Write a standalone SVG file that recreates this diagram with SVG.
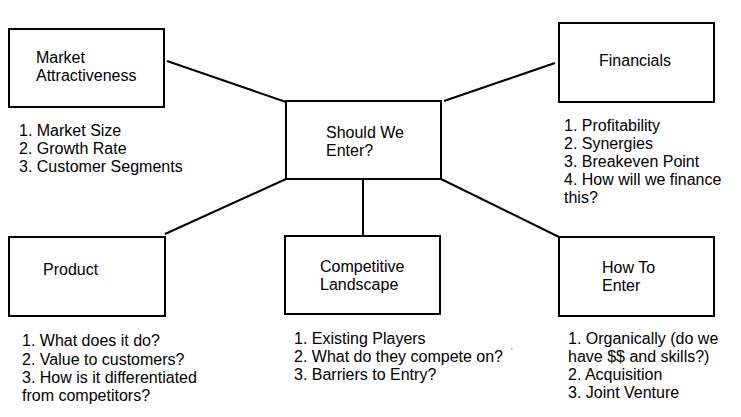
<svg xmlns="http://www.w3.org/2000/svg" width="741" height="417" viewBox="0 0 741 417">
<style>
.box{fill:#fff;stroke:#000;stroke-width:2}
.t{font-family:"Liberation Sans",Arial,sans-serif;font-size:16px;fill:#000}
.c line{stroke:#000;stroke-width:2}
</style>
<rect width="741" height="417" fill="#fff"/>
<g class="c" id="connectors">
<line x1="167" y1="61" x2="286" y2="102"/>
<line x1="444" y1="101" x2="555" y2="63"/>
<line x1="286" y1="179" x2="165" y2="234"/>
<line x1="441" y1="179" x2="559" y2="237"/>
<line x1="363" y1="179" x2="363" y2="236"/>
</g>
<g id="market">
<rect class="box" x="9" y="29" width="155" height="78"/>
<text class="t" x="36" y="62.5">Market</text>
<text class="t" x="36" y="80.5">Attractiveness</text>
<text class="t" x="19" y="135.5">1. Market Size</text>
<text class="t" x="19" y="153.5">2. Growth Rate</text>
<text class="t" x="19" y="172">3. Customer Segments</text>
</g>
<g id="center">
<rect class="box" x="286" y="101" width="155" height="78"/>
<text class="t" x="326" y="137.5">Should We</text>
<text class="t" x="326" y="155.5">Enter?</text>
</g>
<g id="financials">
<rect class="box" x="559" y="23" width="155" height="79"/>
<text class="t" x="599" y="66">Financials</text>
<text class="t" x="564" y="131">1. Profitability</text>
<text class="t" x="564" y="149">2. Synergies</text>
<text class="t" x="564" y="167">3. Breakeven Point</text>
<text class="t" x="564" y="185">4. How will we finance</text>
<text class="t" x="564" y="203">this?</text>
</g>
<g id="product">
<rect class="box" x="9" y="237" width="156" height="79"/>
<text class="t" x="43" y="275">Product</text>
<text class="t" x="22" y="346">1. What does it do?</text>
<text class="t" x="22" y="364.5">2. Value to customers?</text>
<text class="t" x="22" y="383">3. How is it differentiated</text>
<text class="t" x="22" y="401">from competitors?</text>
</g>
<g id="competitive">
<rect class="box" x="285" y="236" width="155" height="78"/>
<text class="t" x="320" y="271.5">Competitive</text>
<text class="t" x="320" y="289.5">Landscape</text>
<text class="t" x="294" y="343.5">1. Existing Players</text>
<text class="t" x="294" y="361.5">2. What do they compete on?</text>
<text class="t" x="294" y="380">3. Barriers to Entry?</text>
<text class="t" x="511" y="353" style="font-size:8px">'</text>
</g>
<g id="howto">
<rect class="box" x="559" y="237" width="155" height="79"/>
<text class="t" x="602" y="273">How To</text>
<text class="t" x="602" y="291">Enter</text>
<text class="t" x="568" y="343.5">1. Organically (do we</text>
<text class="t" x="568" y="361.5">have $$ and skills?)</text>
<text class="t" x="568" y="380">2. Acquisition</text>
<text class="t" x="568" y="398">3. Joint Venture</text>
</g>
</svg>
